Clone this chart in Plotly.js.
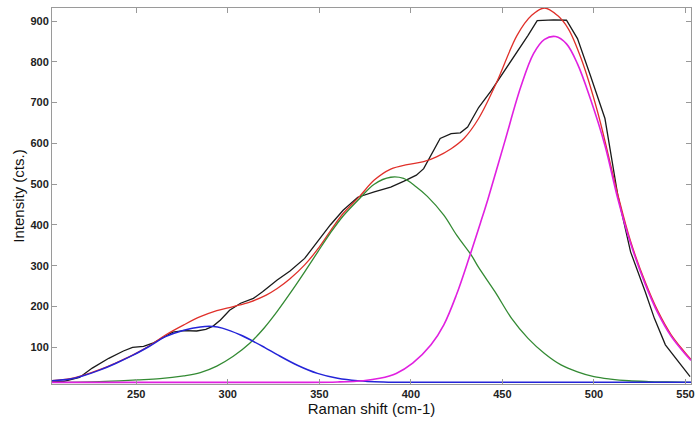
<!DOCTYPE html>
<html>
<head>
<meta charset="utf-8">
<script src="https://cdn.plot.ly/plotly-3.0.1.min.js"></script>
<style>html,body{margin:0;padding:0;background:#fff;}#chart{width:697px;height:423px;}</style>
</head>
<body>
<div id="chart"></div>
<script>
// Measured spectrum (black)
const measX = [204, 210, 219, 226, 235, 243, 248, 254, 259, 265, 270, 276, 283, 288, 292, 296, 301, 307, 314, 319, 327, 334, 342, 349, 356, 363, 371, 380, 389, 396, 403, 407, 411, 416, 422, 427, 431, 437, 444, 455, 464, 469, 478, 485, 491, 498, 506, 513, 520, 528, 533, 539, 546, 552.5];
const measY = [16, 16, 26, 49, 73, 91, 100, 102, 110, 124, 137, 141, 140, 144, 152, 167, 191, 208, 220, 236, 265, 287, 318, 359, 400, 436, 468, 481, 493, 507, 522, 538, 571, 612, 624, 626, 640, 688, 730, 803, 865, 901, 903, 902, 857, 767, 661, 473, 334, 236, 171, 106, 65, 28];

// Cumulative fit (red)
const fitX = [204, 214, 221, 230, 239, 248, 257, 266, 276, 285, 294, 303, 312, 321, 327, 334, 342, 349, 356, 363, 372, 380, 389, 398, 407, 414, 422, 429, 437, 447, 458, 466, 473, 480, 486, 493, 502, 513, 520, 528, 535, 542, 549, 553];
const fitY = [18, 23, 31, 45, 62, 81, 103, 130, 155, 175, 190, 200, 211, 228, 244, 268, 302, 340, 385, 428, 470, 510, 537, 548, 555, 567, 587, 612, 661, 751, 865, 914, 932, 914, 881, 808, 677, 475, 360, 260, 188, 132, 91, 70];

// Peak 1 (blue)
const p1X = [204, 214, 221, 230, 239, 248, 257, 266, 276, 285, 292, 297, 307, 320, 327, 338, 349, 360, 371, 385, 400, 430, 470, 510, 553];
const p1Y = [18, 22, 30, 44, 61, 80, 102, 126, 142, 150, 151, 147, 130, 100, 82, 56, 36, 24, 18, 15, 14, 14, 14, 14, 14];

// Peak 2 (green)
const p2X = [204, 230, 250, 263, 276, 285, 294, 303, 312, 320, 327, 334, 342, 349, 356, 363, 372, 380, 389, 396, 403, 409, 418, 425, 433, 437, 446, 455, 464, 473, 482, 491, 500, 509, 519, 530, 540, 553];
const p2Y = [14, 16, 20, 23, 30, 38, 54, 78, 110, 148, 188, 232, 285, 333, 380, 422, 465, 500, 517, 514, 493, 470, 424, 375, 326, 296, 236, 171, 122, 85, 57, 40, 28, 22, 18, 16, 15, 14];

// Peak 3 (magenta)
const p3X = [204, 250, 300, 340, 360, 374, 383, 392, 401, 411, 418, 425, 432, 438, 442, 451, 460, 467, 473, 479, 485, 491, 498, 506, 513, 520, 528, 535, 542, 549, 553];
const p3Y = [14, 14, 14, 14, 15, 18, 24, 36, 61, 106, 155, 230, 322, 405, 462, 600, 738, 820, 855, 862, 844, 795, 710, 595, 465, 355, 255, 183, 128, 88, 68];

const xTicks = [250, 300, 350, 400, 450, 500, 550];
const yTicks = [100, 200, 300, 400, 500, 600, 700, 800, 900];

const traces = [
  {x: measX, y: measY, mode: 'lines', line: {color: '#1a1a1a', width: 1.3, shape: 'linear'}},
  {x: fitX, y: fitY, mode: 'lines', line: {color: '#e0302a', width: 1.3, shape: 'spline'}},
  {x: p2X, y: p2Y, mode: 'lines', line: {color: '#338a33', width: 1.3, shape: 'spline'}},
  {x: p1X, y: p1Y, mode: 'lines', line: {color: '#2424d8', width: 1.5, shape: 'spline'}},
  {x: p3X, y: p3Y, mode: 'lines', line: {color: '#e020e0', width: 1.6, shape: 'spline'}}
];

const axisFont = {family: 'Liberation Sans, Arial, sans-serif', size: 11, color: '#222', weight: 'bold'};
const layout = {
  width: 697, height: 423,
  margin: {l: 52, r: 6, t: 8, b: 39},
  paper_bgcolor: '#fff', plot_bgcolor: '#fff',
  showlegend: false,
  xaxis: {
    range: [204, 553], tickvals: xTicks, ticktext: xTicks.map(String),
    ticks: 'inside', ticklen: 5, tickcolor: '#999', tickwidth: 1,
    showline: true, linecolor: '#9a9a9a', linewidth: 1, mirror: 'ticks',
    showgrid: false, zeroline: false, tickfont: axisFont,
    title: {text: 'Raman shift (cm-1)', font: {family: 'Liberation Sans, Arial, sans-serif', size: 15, color: '#111'}, standoff: 3}
  },
  yaxis: {
    range: [10, 932], tickvals: yTicks, ticktext: yTicks.map(String),
    ticks: 'inside', ticklen: 5, tickcolor: '#999', tickwidth: 1,
    showline: true, linecolor: '#9a9a9a', linewidth: 1, mirror: 'ticks',
    showgrid: false, zeroline: false, tickfont: axisFont,
    title: {text: 'Intensity (cts.)', font: {family: 'Liberation Sans, Arial, sans-serif', size: 15, color: '#111'}, standoff: 2}
  }
};

Plotly.newPlot('chart', traces, layout, {displayModeBar: false, staticPlot: true});
</script>
</body>
</html>
